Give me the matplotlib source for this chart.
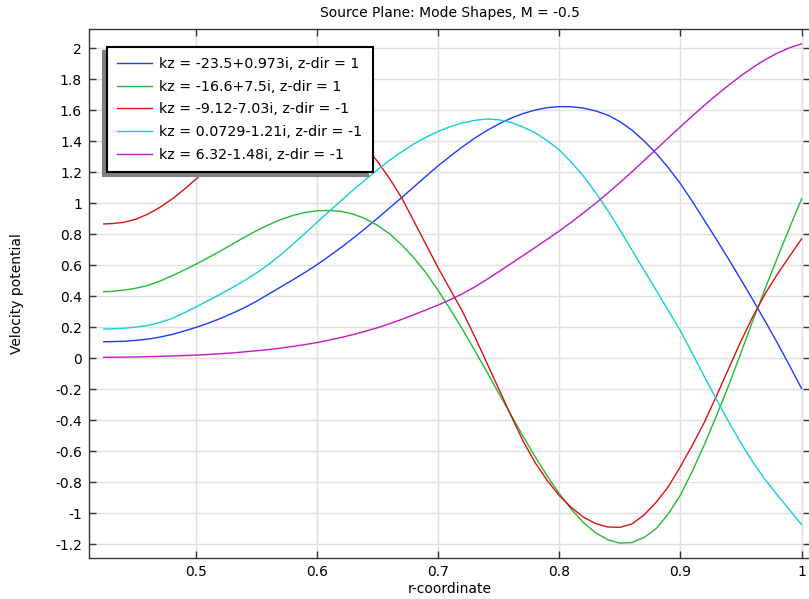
import matplotlib
matplotlib.use("Agg")
import matplotlib.pyplot as plt
from matplotlib.ticker import FuncFormatter
import numpy as np

# r-coordinate samples (shared by all modes)
r = [0.4237, 0.43, 0.44, 0.45, 0.46, 0.47, 0.48, 0.49, 0.50, 0.51,
     0.52, 0.53, 0.54, 0.55, 0.56, 0.57, 0.58, 0.59, 0.60, 0.61,
     0.62, 0.63, 0.64, 0.65, 0.66, 0.67, 0.68, 0.69, 0.70, 0.71,
     0.72, 0.73, 0.74, 0.75, 0.76, 0.77, 0.78, 0.79, 0.80, 0.81,
     0.82, 0.83, 0.84, 0.85, 0.86, 0.87, 0.88, 0.89, 0.90, 0.91,
     0.92, 0.93, 0.94, 0.95, 0.96, 0.97, 0.98, 0.99, 1.00]

# velocity potential per mode
mode_blue = [0.105, 0.106, 0.108, 0.114, 0.122, 0.135, 0.152, 0.174, 0.198, 0.225,
             0.255, 0.289, 0.325, 0.367, 0.413, 0.459, 0.505, 0.553, 0.603, 0.658,
             0.715, 0.775, 0.838, 0.903, 0.970, 1.037, 1.105, 1.174, 1.241, 1.303,
             1.363, 1.418, 1.467, 1.510, 1.547, 1.577, 1.600, 1.615, 1.622, 1.621,
             1.612, 1.594, 1.567, 1.525, 1.470, 1.400, 1.320, 1.227, 1.125, 1.008,
             0.885, 0.762, 0.635, 0.505, 0.373, 0.237, 0.098, -0.047, -0.196]
mode_green = [0.428, 0.430, 0.438, 0.450, 0.468, 0.496, 0.530, 0.567, 0.606, 0.648,
              0.690, 0.735, 0.780, 0.822, 0.860, 0.893, 0.920, 0.939, 0.950, 0.952,
              0.946, 0.928, 0.898, 0.855, 0.800, 0.728, 0.645, 0.548, 0.435, 0.313,
              0.185, 0.050, -0.087, -0.228, -0.367, -0.505, -0.637, -0.762, -0.875, -0.977,
              -1.062, -1.128, -1.172, -1.194, -1.190, -1.158, -1.100, -1.005, -0.884, -0.727,
              -0.554, -0.367, -0.174, 0.034, 0.246, 0.448, 0.646, 0.838, 1.026]
mode_red = [0.865, 0.867, 0.875, 0.895, 0.928, 0.972, 1.025, 1.087, 1.155, 1.223,
            1.293, 1.361, 1.424, 1.480, 1.527, 1.563, 1.586, 1.594, 1.581, 1.551,
            1.505, 1.442, 1.362, 1.266, 1.155, 1.030, 0.880, 0.730, 0.580, 0.440,
            0.300, 0.140, -0.030, -0.200, -0.370, -0.535, -0.675, -0.790, -0.888, -0.965,
            -1.027, -1.068, -1.090, -1.092, -1.070, -1.012, -0.930, -0.830, -0.700, -0.560,
            -0.410, -0.240, -0.065, 0.110, 0.270, 0.415, 0.540, 0.655, 0.768]
mode_cyan = [0.187, 0.188, 0.192, 0.199, 0.210, 0.229, 0.255, 0.291, 0.330, 0.371,
             0.412, 0.455, 0.500, 0.550, 0.605, 0.667, 0.735, 0.805, 0.877, 0.947,
             1.017, 1.086, 1.152, 1.216, 1.277, 1.332, 1.382, 1.425, 1.462, 1.493,
             1.517, 1.533, 1.542, 1.537, 1.520, 1.490, 1.453, 1.402, 1.342, 1.262,
             1.172, 1.067, 0.952, 0.826, 0.696, 0.566, 0.436, 0.306, 0.175, 0.027,
             -0.124, -0.271, -0.414, -0.549, -0.674, -0.784, -0.884, -0.979, -1.074]
mode_magenta = [0.005, 0.005, 0.006, 0.007, 0.009, 0.011, 0.013, 0.016, 0.019, 0.023,
                0.028, 0.033, 0.040, 0.047, 0.055, 0.064, 0.075, 0.087, 0.100, 0.116,
                0.133, 0.152, 0.173, 0.196, 0.222, 0.250, 0.280, 0.311, 0.342, 0.377,
                0.415, 0.458, 0.506, 0.557, 0.609, 0.661, 0.713, 0.766, 0.820, 0.877,
                0.937, 0.999, 1.064, 1.132, 1.202, 1.274, 1.347, 1.420, 1.492, 1.563,
                1.632, 1.698, 1.761, 1.821, 1.876, 1.925, 1.967, 2.001, 2.027]

labels = ["kz = -23.5+0.973i, z-dir = 1",
          "kz = -16.6+7.5i, z-dir = 1",
          "kz = -9.12-7.03i, z-dir = -1",
          "kz = 0.0729-1.21i, z-dir = -1",
          "kz = 6.32-1.48i, z-dir = -1"]
colors = ['#1a3cff', '#22bb33', '#dd1111', '#11d0d8', '#c419c4']
series = [mode_blue, mode_green, mode_red, mode_cyan, mode_magenta]

plt.rcParams['axes.unicode_minus'] = False
plt.rcParams['font.size'] = 10

fig = plt.figure(figsize=(8.09, 5.99), dpi=100)
ax = fig.add_axes([89/809, 1-558/599, 721/809, (558-29)/599])

for vals, c, lab in zip(series, colors, labels):
    ax.plot(r, vals, color=c, lw=1.0, label=lab)

ax.set_xlim(0.4115, 1.007)
ax.set_ylim(-1.29, 2.1226)
ax.set_xticks(np.round(np.arange(0.5, 1.01, 0.1), 1))
ax.set_yticks(np.round(np.arange(-1.2, 2.01, 0.2), 1))
fmt = FuncFormatter(lambda v, p: '%g' % (0.0 if abs(v) < 1e-9 else v))
ax.xaxis.set_major_formatter(fmt)
ax.yaxis.set_major_formatter(fmt)
ax.tick_params(direction='in', length=5, width=1, top=True, right=True,
               color='#333333', labelsize=10, pad=5)
ax.grid(True, color='#e0e0e0', lw=1.0)
ax.set_axisbelow(True)
for s in ax.spines.values():
    s.set_color('#333333')
    s.set_linewidth(1.0)

ax.set_title('Source Plane: Mode Shapes, M = -0.5', fontsize=10, pad=9)
ax.set_xlabel('r-coordinate', fontsize=10, labelpad=2)
ax.set_ylabel('Velocity potential', fontsize=10)
ax.yaxis.set_label_coords(-0.09, 0.5)

leg = ax.legend(loc='upper left', bbox_to_anchor=(0.0246, 0.9665), borderaxespad=0,
                fancybox=False, framealpha=1, edgecolor='black', fontsize=10.25,
                handlelength=2.45, handletextpad=0.45, borderpad=0.75, labelspacing=0.6,
                shadow={'ox': -3, 'oy': -3, 'facecolor': '#7f7f7f',
                        'edgecolor': '#7f7f7f', 'alpha': 1})
leg.get_frame().set_linewidth(1.5)
leg.set_zorder(10)

fig.savefig('out.png', dpi=100)
